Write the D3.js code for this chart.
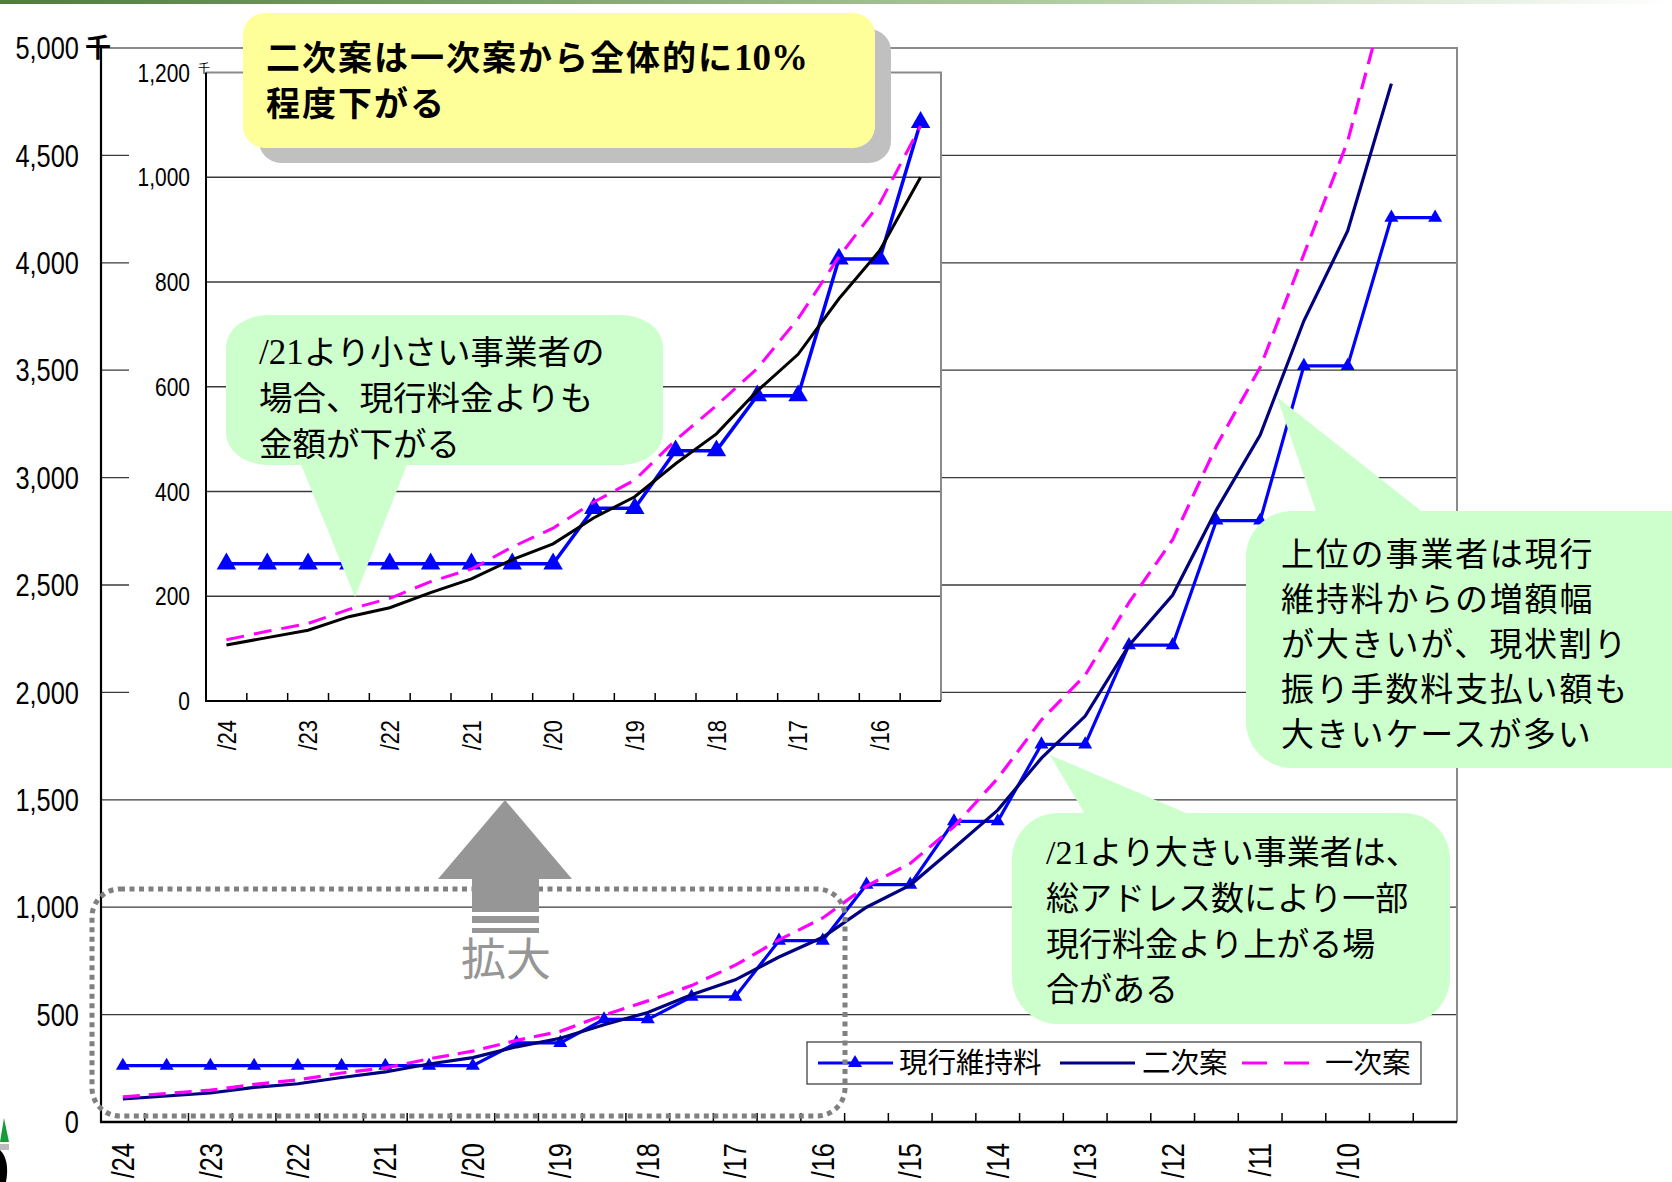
<!DOCTYPE html>
<html><head><meta charset="utf-8">
<script src="https://cdn.jsdelivr.net/npm/d3@7"></script>
<style>body{margin:0;background:#fff} svg{display:block}</style>
</head><body>
<svg id="c" width="1672" height="1182"></svg>
<script>
// ---- data ----
const categories = ["/24","","/23","","/22","","/21","","/20","","/19","","/18","","/17","","/16","","/15","","/14","","/13","","/12","","/11","","/10","",""];
const currentFee = [262,262,262,262,262,262,262,262,262,368,368,478,478,583,583,844,844,1105,1105,1400,1400,1758,1758,2220,2220,2800,2800,3520,3520,4210,4210];
const secondPlan = [107,121,135,161,178,207,233,270,300,350,390,453,510,592,662,768,860,1000,1103,1276,1452,1694,1890,2219,2453,2850,3198,3730,4148,4834,null];
const firstPlan  = [117,133,148,175,196,228,252,294,330,380,422,498,564,635,730,848,950,1098,1204,1375,1600,1872,2080,2418,2711,3148,3513,4040,4565,5330,null];
const mainTicks = [0,500,1000,1500,2000,2500,3000,3500,4000,4500,5000];
const insetTicks = [0,200,400,600,800,1000,1200];
const insetCount = 18;
const seriesNames = ["現行維持料","二次案","一次案"];
const noteTop = ["二次案は一次案から全体的に", "10%", "程度下がる"];
const noteLeft = ["/21", "より小さい事業者の", "場合、現行料金よりも", "金額が下がる"];
const noteRight = ["上位の事業者は現行","維持料からの増額幅","が大きいが、現状割り","振り手数料支払い額も","大きいケースが多い"];
const noteLower = ["/21", "より大きい事業者は、", "総アドレス数により一部", "現行料金より上がる場", "合がある"];

const svg = d3.select("#c");
const CJK = "'Noto Sans CJK JP','Noto Sans',sans-serif";
const NUM = "'Liberation Sans',Arial,sans-serif";
const SERIF = "'Liberation Serif','Times New Roman',serif";

// top gradient bar
const defs = svg.append("defs");
const g1 = defs.append("linearGradient").attr("id","topbar");
g1.append("stop").attr("offset","0").attr("stop-color","#4f7d3c");
g1.append("stop").attr("offset","0.6").attr("stop-color","#a9c89a");
g1.append("stop").attr("offset","1").attr("stop-color","#ffffff");
svg.append("rect").attr("x",0).attr("y",0).attr("width",1672).attr("height",4).attr("fill","url(#topbar)");

// ---- main chart ----
const M = {l:101, r:1457, t:48, b:1122};
const x = d3.scaleBand().domain(d3.range(categories.length)).range([M.l, M.r]);
const y = d3.scaleLinear().domain([0,5000]).range([M.b, M.t]);
const cx = i => x(i) + x.bandwidth()/2;

defs.append("clipPath").attr("id","mainclip").append("rect")
  .attr("x",M.l).attr("y",M.t).attr("width",M.r-M.l).attr("height",M.b-M.t);

const main = svg.append("g");
// gridlines
main.append("g").selectAll("line").data(mainTicks.filter(d=>d>0 && d<5000)).join("line")
  .attr("x1",M.l).attr("x2",M.r).attr("y1",d=>y(d)).attr("y2",d=>y(d))
  .attr("stroke","#3a3a3a").attr("stroke-width",1.3);
// top/right border
main.append("path").attr("d",`M${M.l},${y(5000)}H${M.r}V${M.b}`)
  .attr("fill","none").attr("stroke","#8a8a8a").attr("stroke-width",2);
// y labels
main.append("g").selectAll("text").data(mainTicks).join("text")
  .attr("transform",d=>`translate(79,${y(d)}) scale(0.82,1)`)
  .attr("text-anchor","end").attr("dy","0.36em")
  .attr("font-family",NUM).attr("font-size",31).attr("fill","#000")
  .text(d=>d3.format(",")(d));
// x ticks (inside)
main.append("g").selectAll("line").data(d3.range(1,categories.length)).join("line")
  .attr("x1",d=>x(d)).attr("x2",d=>x(d)).attr("y1",M.b).attr("y2",M.b-9)
  .attr("stroke","#000").attr("stroke-width",1.5);
// x labels
main.append("g").selectAll("text").data(d3.range(categories.length).filter(i=>categories[i]!=="")).join("text")
  .attr("transform",i=>`translate(${cx(i)},1143) rotate(-90) scale(0.82,1)`)
  .attr("text-anchor","end").attr("dy","0.36em")
  .attr("font-family",NUM).attr("font-size",31).attr("fill","#000")
  .text(i=>categories[i]);
// axes
main.append("line").attr("x1",M.l).attr("x2",M.l).attr("y1",M.t).attr("y2",M.b).attr("stroke","#000").attr("stroke-width",2.2);
main.append("line").attr("x1",M.l-1).attr("x2",M.r).attr("y1",M.b).attr("y2",M.b).attr("stroke","#000").attr("stroke-width",2.5);

// series
const lines = main.append("g").attr("clip-path","url(#mainclip)");
const lineGen = d3.line().defined(d=>d!=null).x((d,i)=>cx(i)).y(d=>y(d));
lines.append("path").datum(currentFee).attr("d",lineGen).attr("fill","none").attr("stroke","#0000ff").attr("stroke-width",3.2);
lines.append("g").selectAll("path").data(currentFee).join("path")
  .attr("d",d3.symbol(d3.symbolTriangle,85)())
  .attr("transform",(d,i)=>`translate(${cx(i)},${y(d)})`).attr("fill","#0000ff");
lines.append("path").datum(secondPlan).attr("d",lineGen).attr("fill","none").attr("stroke","#000080").attr("stroke-width",3.2);
lines.append("path").datum(firstPlan).attr("d",lineGen).attr("fill","none").attr("stroke","#ff00ff").attr("stroke-width",3.2).attr("stroke-dasharray","17,9");

// legend
const L = main.append("g");
L.append("rect").attr("x",807).attr("y",1042).attr("width",614).attr("height",42).attr("fill","#fff").attr("stroke","#333").attr("stroke-width",1.2);
const ly = 1063;
L.append("line").attr("x1",818).attr("x2",893).attr("y1",ly).attr("y2",ly).attr("stroke","#0000ff").attr("stroke-width",3);
L.append("path").attr("d",d3.symbol(d3.symbolTriangle,85)()).attr("transform",`translate(855,${ly})`).attr("fill","#0000ff");
L.append("line").attr("x1",1060).attr("x2",1135).attr("y1",ly).attr("y2",ly).attr("stroke","#000080").attr("stroke-width",3);
L.append("line").attr("x1",1242).attr("x2",1309).attr("y1",ly).attr("y2",ly).attr("stroke","#ff00ff").attr("stroke-width",3).attr("stroke-dasharray","25,17");
[[899,seriesNames[0]],[1142,seriesNames[1]],[1325,seriesNames[2]]].forEach(([tx,t])=>{
  L.append("text").attr("x",tx).attr("y",ly).attr("dy","0.36em").attr("font-family",CJK).attr("font-size",28.5).attr("fill","#000").text(t);
});

// dotted zoom region
svg.append("rect").attr("x",92).attr("y",889).attr("width",753).attr("height",227).attr("rx",28)
  .attr("fill","none").attr("stroke","#808080").attr("stroke-width",5).attr("stroke-dasharray","5,4.5");

// arrow
const AR = svg.append("g").attr("fill","#969696");
AR.append("polygon").attr("points","438,879 572,879 505,800");
AR.append("rect").attr("x",472).attr("y",878).attr("width",67).attr("height",34);
AR.append("rect").attr("x",472).attr("y",916).attr("width",67).attr("height",7);
AR.append("rect").attr("x",472).attr("y",928).attr("width",67).attr("height",5);
AR.append("text").attr("x",506).attr("y",976).attr("text-anchor","middle").attr("font-family",CJK).attr("font-size",45).text("拡大");

// ---- inset chart ----
const I = {l:206, r:941, t:72.5, b:701};
const xi = d3.scaleBand().domain(d3.range(insetCount)).range([I.l, I.r]);
const yi = d3.scaleLinear().domain([0,1200]).range([I.b, I.t]);
const cxi = i => xi(i) + xi.bandwidth()/2;
const inset = svg.append("g");
inset.append("rect").attr("x",129).attr("y",55).attr("width",I.r-129).attr("height",725).attr("fill","#fff");
inset.append("g").selectAll("line").data(insetTicks.filter(d=>d>0 && d<1200)).join("line")
  .attr("x1",I.l).attr("x2",I.r).attr("y1",d=>yi(d)).attr("y2",d=>yi(d))
  .attr("stroke","#3a3a3a").attr("stroke-width",1.3);
inset.append("path").attr("d",`M${I.l},${yi(1200)}H${I.r}V${I.b}`)
  .attr("fill","none").attr("stroke","#8a8a8a").attr("stroke-width",2);
inset.append("g").selectAll("text").data(insetTicks).join("text")
  .attr("transform",d=>`translate(190,${yi(d)}) scale(0.84,1)`)
  .attr("text-anchor","end").attr("dy","0.36em")
  .attr("font-family",NUM).attr("font-size",25).attr("fill","#000")
  .text(d=>d3.format(",")(d));
inset.append("g").selectAll("line").data(d3.range(1,insetCount)).join("line")
  .attr("x1",d=>xi(d)).attr("x2",d=>xi(d)).attr("y1",I.b).attr("y2",I.b-8)
  .attr("stroke","#000").attr("stroke-width",1.5);
inset.append("g").selectAll("text").data(d3.range(insetCount).filter(i=>categories[i]!=="")).join("text")
  .attr("transform",i=>`translate(${cxi(i)},${I.b+19}) rotate(-90) scale(0.84,1)`)
  .attr("text-anchor","end").attr("dy","0.36em")
  .attr("font-family",NUM).attr("font-size",26).attr("fill","#000")
  .text(i=>categories[i]);
inset.append("line").attr("x1",I.l).attr("x2",I.l).attr("y1",I.t).attr("y2",I.b).attr("stroke","#000").attr("stroke-width",2);
inset.append("line").attr("x1",I.l-1).attr("x2",I.r).attr("y1",I.b).attr("y2",I.b).attr("stroke","#000").attr("stroke-width",2);
inset.append("text").attr("x",204).attr("y",73).attr("text-anchor","middle").attr("font-family",CJK).attr("font-size",12).text("千");
const lineI = d3.line().defined(d=>d!=null).x((d,i)=>cxi(i)).y(d=>yi(d));
const cI = currentFee.slice(0,insetCount), sI = secondPlan.slice(0,insetCount), fI = firstPlan.slice(0,insetCount);
inset.append("path").datum(cI).attr("d",lineI).attr("fill","none").attr("stroke","#0000ff").attr("stroke-width",3.5);
inset.append("g").selectAll("path").data(cI).join("path")
  .attr("d",d3.symbol(d3.symbolTriangle,165)())
  .attr("transform",(d,i)=>`translate(${cxi(i)},${yi(d)})`).attr("fill","#0000ff");
inset.append("path").datum(sI).attr("d",lineI).attr("fill","none").attr("stroke","#000").attr("stroke-width",3);
inset.append("path").datum(fI).attr("d",lineI).attr("fill","none").attr("stroke","#ff00ff").attr("stroke-width",3).attr("stroke-dasharray","18,10");

// main 千
svg.append("text").attr("x",98).attr("y",57).attr("text-anchor","middle").attr("font-family",CJK).attr("font-weight",700).attr("font-size",26).text("千");

// ---- callouts ----
// yellow
svg.append("rect").attr("x",259).attr("y",29).attr("width",632).attr("height",134).attr("rx",22).attr("fill","#c0c0c0");
svg.append("rect").attr("x",243).attr("y",13).attr("width",632).attr("height",135).attr("rx",22).attr("fill","#ffff99");
const ty = svg.append("text").attr("x",266).attr("y",70).attr("font-family",CJK).attr("font-weight",700).attr("font-size",34).attr("fill","#000");
ty.append("tspan").attr("letter-spacing",2).text(noteTop[0]);
ty.append("tspan").attr("font-family",SERIF).attr("font-size",37).text(noteTop[1]);
svg.append("text").attr("x",266).attr("y",116).attr("font-family",CJK).attr("font-weight",700).attr("font-size",34)
  .attr("letter-spacing",2).attr("fill","#000").text(noteTop[2]);

const GREEN = "#ccffcc";
// left green
svg.append("rect").attr("x",226).attr("y",315).attr("width",437).attr("height",150).attr("rx",42).attr("ry",32).attr("fill",GREEN);
svg.append("polygon").attr("points","300,462 408,462 355,597").attr("fill",GREEN);
const tl = svg.append("text").attr("font-family",CJK).attr("font-size",33.5).attr("fill","#000");
tl.append("tspan").attr("x",259).attr("y",364).attr("font-family",SERIF).attr("font-size",35).text(noteLeft[0]);
tl.append("tspan").text(noteLeft[1]);
tl.append("tspan").attr("x",259).attr("y",410).text(noteLeft[2]);
tl.append("tspan").attr("x",259).attr("y",456).text(noteLeft[3]);

// right upper green
svg.append("rect").attr("x",1246).attr("y",511).attr("width",470).attr("height",257).attr("rx",46).attr("fill",GREEN);
svg.append("polygon").attr("points","1317,514 1425,514 1277,397").attr("fill",GREEN);
noteRight.forEach((t,k)=>svg.append("text").attr("x",1281).attr("y",566+45*k)
  .attr("font-family",CJK).attr("font-size",33).attr("letter-spacing",1.8).attr("fill","#000").text(t));

// lower right green
svg.append("rect").attr("x",1012).attr("y",813).attr("width",438).attr("height",211).attr("rx",46).attr("fill",GREEN);
svg.append("polygon").attr("points","1086,816 1193,816 1050,755").attr("fill",GREEN);
const tw = svg.append("text").attr("font-family",CJK).attr("font-size",33).attr("fill","#000");
tw.append("tspan").attr("x",1046).attr("y",864).attr("font-family",SERIF).attr("font-size",34).text(noteLower[0]);
tw.append("tspan").text(noteLower[1]);
tw.append("tspan").attr("x",1046).attr("y",910).text(noteLower[2]);
tw.append("tspan").attr("x",1046).attr("y",956).text(noteLower[3]);
tw.append("tspan").attr("x",1046).attr("y",1001).text(noteLower[4]);

// corner logo fragment
svg.append("path").attr("d","M0,1142 L4,1118 L9,1142 Z").attr("fill","#1a9a3a");
svg.append("rect").attr("x",0).attr("y",1144).attr("width",9).attr("height",6).attr("fill","#bbb");
svg.append("path").attr("d","M0,1150 Q10,1160 6,1182 L0,1182 Z").attr("fill","#000");
</script>
</body></html>
